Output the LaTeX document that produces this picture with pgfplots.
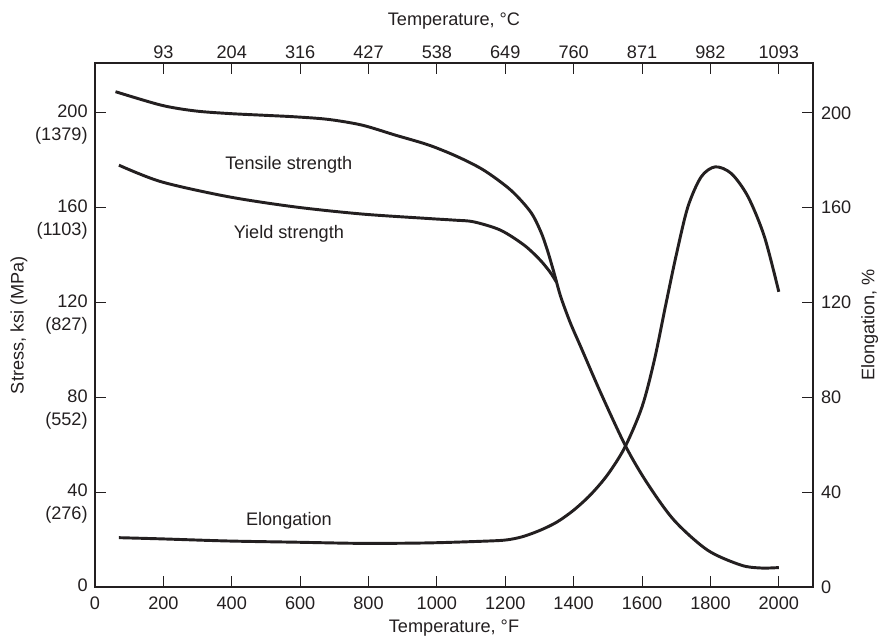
\documentclass[border=0pt]{standalone}
\usepackage{fontspec}
\setmainfont{Liberation Sans}
\usepackage{pgfplots}
\pgfplotsset{compat=1.18}
\definecolor{ink}{HTML}{231F20}
\newcommand\lblfont{\fontsize{13.6}{17.25}\selectfont}

\pgfplotsset{
  base/.style={
    width=538.5pt, height=393pt, scale only axis,
    xmin=0, xmax=2100, ymin=0, ymax=221,
    tick align=inside, major tick length=8pt,
    axis line style={line width=1.2pt, ink},
    every tick/.style={ink, line width=0.75pt},
    tick label style={font=\lblfont, text=ink},
    label style={font=\lblfont, text=ink},
  },
  curve/.style={ink, line width=2.2pt, smooth, no marks},
}

\begin{document}
\begin{tikzpicture}
\begin{axis}[base, name=ax,
  xtick={0,200,...,2000},
  xticklabels={0,200,400,600,800,1000,1200,1400,1600,1800,2000},
  xtick pos=left, ytick pos=left,
  xticklabel style={yshift=-3.5pt},
  ytick={0,40,...,200},
  yticklabels={0,{40\\(276)},{80\\(552)},{120\\(827)},{160\\(1103)},{200\\(1379)}},
  yticklabel style={align=right, anchor=north east, yshift=9.4pt, xshift=-2pt},
  xlabel={Temperature, °F},
  xlabel style={at={(axis description cs:0.5,-0.078)}, anchor=center},
  ylabel={Stress, ksi (MPa)},
  ylabel style={at={(axis description cs:-0.106,0.5)}, anchor=center},
  clip=false,
]
% tensile strength, continues into the common falling branch
\addplot[curve] coordinates {
  (60,208.9) (194,203.2) (292,200.8) (390,199.7) (487,199.0) (585,198.3)
  (683,197.2) (781,194.8) (878,190.6) (976,186.4) (1060,181.5) (1137,175.8)
  (1216,167.4) (1274,158.2) (1304,149.8) (1323,142.1) (1342,132.8)
  (1362,122.5) (1390,111.5) (1421,101.2) (1480,81.6) (1553,59.1) (1616,43.6)
  (1694,28.1) (1792,15.5) (1890,9.2) (1949,8.0) (2000,8.2)
};
% yield strength
\addplot[curve] coordinates {
  (70,177.9) (194,170.9) (390,164.6) (585,160.3) (781,157.3) (976,155.4)
  (1054,154.7) (1108,154.0) (1186,150.5) (1255,144.2) (1300,138.2)
  (1330,133.0) (1350,128.5)
};
% elongation (right scale, same range)
\addplot[curve] coordinates {
  (70,20.8) (194,20.3) (390,19.4) (585,18.9) (781,18.4) (976,18.6)
  (1152,19.4) (1206,19.9) (1250,21.2) (1300,23.8) (1350,27.3) (1400,32.4)
  (1450,39.0) (1500,47.5) (1550,59.0) (1600,76.0) (1636,95.7)
  (1670,119.5) (1700,140.0) (1734,160.3) (1773,173.0) (1814,177.2)
  (1861,174.4) (1910,164.6) (1958,147.7) (2000,124.5)
};
\node[font=\lblfont, text=ink] at (axis cs:567,178.1) {Tensile strength};
\node[font=\lblfont, text=ink] at (axis cs:567,149.1) {Yield strength};
\node[font=\lblfont, text=ink] at (axis cs:567,27.8) {Elongation};
\end{axis}

\begin{axis}[base,
  xtick={200,400,...,2000},
  xticklabels={93,204,316,427,538,649,760,871,982,1093},
  xtick pos=right, xticklabel pos=right,
  ytick={0,40,...,200},
  yticklabels={0,40,80,120,160,200},
  ytick pos=right, yticklabel pos=right,
  yticklabel style={xshift=2.5pt},
  xlabel={Temperature, °C},
  xlabel style={at={(axis description cs:0.5,1.081)}, anchor=center},
  ylabel={Elongation, \%},
  ylabel style={at={(axis description cs:1.079,0.5)}, anchor=center},
]
\end{axis}

\pgfresetboundingbox
\useasboundingbox ([xshift=-71.25pt,yshift=-41.25pt]ax.south west)
  rectangle ([xshift=60pt,yshift=47.25pt]ax.north east);
\end{tikzpicture}
\end{document}
